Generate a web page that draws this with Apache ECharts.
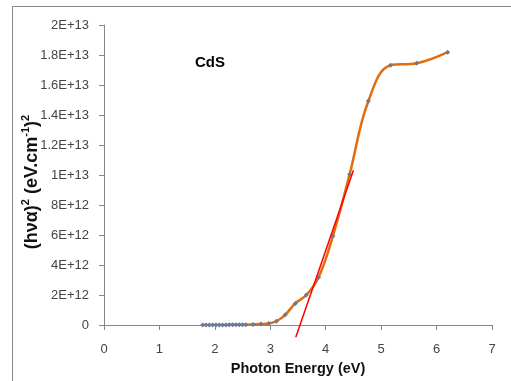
<!DOCTYPE html>
<html>
<head>
<meta charset="utf-8">
<script src="https://cdn.jsdelivr.net/npm/echarts@6/dist/echarts.min.js"></script>
<style>html,body{margin:0;padding:0;background:#fff;}#c{width:511px;height:381px;}</style>
</head>
<body>
<div id="c"></div>
<script>
// Photon energy (eV)
var energy = [1.78, 1.84, 1.90, 1.96, 2.02, 2.08, 2.14, 2.20, 2.26, 2.32, 2.38, 2.44, 2.50, 2.56, 2.69, 2.83, 2.97, 3.11, 3.27, 3.45, 3.65, 3.87, 4.13, 4.43, 4.77, 5.17, 5.64, 6.20];
// (h nu alpha)^2 in units of 1E12
var absorb = [0.00, 0.00, 0.00, 0.00, 0.00, 0.00, 0.00, 0.00, 0.01, 0.01, 0.01, 0.01, 0.02, 0.02, 0.04, 0.06, 0.10, 0.25, 0.68, 1.44, 2.00, 3.17, 5.93, 10.03, 14.93, 17.32, 17.45, 18.19];
// tangent (Tauc extrapolation) line endpoints
var tangentX = [3.46, 4.50];
var tangentY = [-0.82, 10.32];
var yTickLabels = ['0', '2E+12', '4E+12', '6E+12', '8E+12', '1E+13', '1.2E+13', '1.4E+13', '1.6E+13', '1.8E+13', '2E+13'];
var xTickLabels = ['0', '1', '2', '3', '4', '5', '6', '7'];

var mainData = energy.map(function (e, i) { return [e, absorb[i] * 1e12]; });
var tanData = tangentX.map(function (e, i) { return [e, tangentY[i] * 1e12]; });

var chart = echarts.init(document.getElementById('c'), null, {renderer: 'canvas'});
chart.setOption({
  animation: false,
  backgroundColor: '#ffffff',
  grid: {left: 104, right: 19, top: 25, bottom: 55, containLabel: false},
  graphic: [
    {type: 'rect', shape: {x: 12.5, y: 6.5, width: 520, height: 400}, style: {fill: 'none', stroke: '#8a8a8a', lineWidth: 1}, silent: true, z: -1},
    {type: 'text', left: 195, top: 55, style: {text: 'CdS', font: 'bold 15px "Liberation Sans", Arial, sans-serif', fill: '#000'}}
  ],
  xAxis: {
    type: 'value', min: 0, max: 7, interval: 1,
    name: 'Photon Energy (eV)', nameLocation: 'middle', nameGap: 36,
    nameTextStyle: {fontFamily: 'Liberation Sans', fontWeight: 'bold', fontSize: 14.5, color: '#111'},
    axisLine: {show: true, onZero: false, lineStyle: {color: '#868686', width: 1}},
    axisTick: {show: true, inside: false, length: 5, lineStyle: {color: '#868686'}},
    axisLabel: {margin: 18, fontFamily: 'Liberation Sans', fontSize: 13, color: '#444',
      formatter: function (v) { return xTickLabels[Math.round(v)]; }},
    splitLine: {show: false}
  },
  yAxis: {
    type: 'value', min: 0, max: 2e13, interval: 2e12,
    name: '{a|(hνα)}{s|2}{a| (eV.cm}{s|-1}{a|)}{s|2}', nameLocation: 'middle', nameGap: 63, nameRotate: 90,
    nameMoveOverlap: false,
    nameTextStyle: {fontFamily: 'Liberation Sans', fontWeight: 'bold', fontSize: 18, color: '#111',
      padding: [0, 14, 0, 0],
      rich: {
        a: {fontFamily: 'Liberation Sans', fontWeight: 'bold', fontSize: 18, lineHeight: 21, color: '#111', verticalAlign: 'bottom'},
        s: {fontFamily: 'Liberation Sans', fontWeight: 'bold', fontSize: 11, lineHeight: 12, color: '#111', verticalAlign: 'top'}
      }},
    axisLine: {show: true, lineStyle: {color: '#868686', width: 1}},
    axisTick: {show: true, inside: false, length: 5, lineStyle: {color: '#868686'}},
    axisLabel: {margin: 15, fontFamily: 'Liberation Sans', fontSize: 13, color: '#444',
      formatter: function (v) { return yTickLabels[Math.round(v / 2e12)]; }},
    splitLine: {show: false}
  },
  series: [
    {
      type: 'line', data: mainData, smooth: 0.4,
      lineStyle: {color: '#E46C0A', width: 2.5},
      itemStyle: {color: '#6b7a99'},
      symbol: 'diamond', symbolSize: 5, showAllSymbol: true, z: 3
    },
    {
      type: 'line', data: tanData, clip: false, symbol: 'none',
      lineStyle: {color: '#ff0000', width: 1.5}, z: 4
    }
  ]
});
</script>
</body>
</html>
